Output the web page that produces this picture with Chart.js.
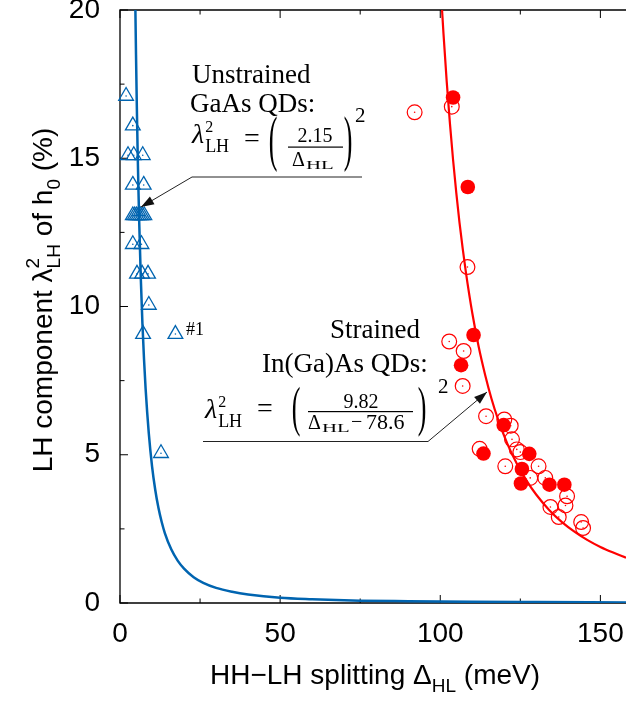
<!DOCTYPE html>
<html><head><meta charset="utf-8">
<script src="https://cdn.jsdelivr.net/npm/chart.js@4"></script>
<style>html,body{margin:0;padding:0;background:#fff}canvas{display:block}</style>
</head><body>
<canvas id="c" width="626" height="702" style="width:626px;height:702px"></canvas>
<script>
// ---- data ----
const xTicks = [0, 50, 100, 150];
const xMinorTicks = [25, 75, 125];
const yTicks = [0, 5, 10, 15, 20];
const yMinorTicks = [2.5, 7.5, 12.5, 17.5];
const xRange = [0, 158];
const yRange = [0, 20];

// Unstrained GaAs QDs (open triangles)
const gaasX = [1.9, 4.0, 2.5, 4.3, 7.1, 4.0, 7.4, 4.0, 4.6, 5.2, 5.8, 6.4, 7.0, 7.6, 4.0, 6.7, 5.3, 6.9, 8.75, 9.0, 7.2, 17.3, 12.8];
const gaasY = [17.1, 16.1, 15.1, 15.1, 15.1, 14.1, 14.1, 13.07, 13.07, 13.07, 13.07, 13.07, 13.07, 13.07, 12.1, 12.1, 11.1, 11.1, 11.1, 10.05, 9.07, 9.07, 5.05];

// Strained In(Ga)As QDs, open circles
const ingaasOpenX = [92.0, 103.6, 108.5, 102.8, 107.3, 107.0, 114.3, 120.0, 122.0, 122.4, 112.3, 123.9, 125.0, 120.3, 130.7, 128.1, 132.8, 139.6, 139.1, 134.4, 137.0, 144.0, 144.6];
const ingaasOpenY = [16.55, 16.74, 11.33, 8.82, 8.5, 7.32, 6.3, 6.19, 5.98, 5.52, 5.2, 5.18, 5.09, 4.61, 4.61, 4.22, 4.22, 3.6, 3.29, 3.24, 2.9, 2.73, 2.53];
// Strained In(Ga)As QDs, filled circles
const ingaasFilledX = [104.0, 108.6, 110.4, 106.5, 119.8, 113.5, 127.8, 125.5, 125.2, 134.1, 138.75];
const ingaasFilledY = [17.05, 14.03, 9.04, 8.02, 6.0, 5.04, 5.03, 4.52, 4.03, 3.99, 3.99];

// fit curves
const gaasFitX = [4.8, 5.0, 5.25, 5.5, 5.75, 6.0, 6.5, 7.0, 7.5, 8.0, 9.0, 10, 11, 12, 13, 14, 16, 18, 20, 23, 26, 30, 35, 40, 50, 60, 75, 90, 110, 130, 158];
const gaasFitY = [20.06, 18.49, 16.77, 15.28, 13.98, 12.84, 10.94, 9.43, 8.22, 7.22, 5.71, 4.62, 3.82, 3.21, 2.74, 2.36, 1.81, 1.43, 1.16, 0.87, 0.68, 0.51, 0.38, 0.29, 0.18, 0.13, 0.08, 0.06, 0.04, 0.03, 0.02];
const ingaasFitX = [100.5, 101, 102, 103, 104, 105, 106, 107, 108, 110, 112, 114, 116, 118, 121, 124, 127, 130, 134, 138, 142, 146, 150, 154, 158];
const ingaasFitY = [20.11, 19.22, 17.61, 16.20, 14.95, 13.84, 12.84, 11.96, 11.16, 9.78, 8.64, 7.70, 6.89, 6.21, 5.36, 4.68, 4.12, 3.65, 3.14, 2.73, 2.40, 2.12, 1.89, 1.70, 1.53];

const BLUE = '#0064b0';
const RED = '#ff0000';
const pts = (xs, ys) => xs.map((x, i) => ({x: x, y: ys[i]}));

const SANS = '"Liberation Sans", Arial, Helvetica, sans-serif';
const SERIF = '"Liberation Serif", "Times New Roman", serif';

// ---- plugins ----
const frame = {
  id: 'frame',
  beforeDatasetsDraw(chart) {
    const {ctx, chartArea: a, scales: {x, y}} = chart;
    ctx.save();
    ctx.strokeStyle = '#000';
    ctx.lineWidth = 1.3;
    ctx.beginPath();
    ctx.moveTo(a.right + 2, a.top); ctx.lineTo(a.left, a.top);
    ctx.lineTo(a.left, a.bottom); ctx.lineTo(a.right + 2, a.bottom);
    ctx.stroke();
    ctx.lineWidth = 1;
    const xt = (v, len) => {
      const px = x.getPixelForValue(v);
      ctx.beginPath();
      ctx.moveTo(px, a.bottom); ctx.lineTo(px, a.bottom - len);
      ctx.moveTo(px, a.top); ctx.lineTo(px, a.top + len);
      ctx.stroke();
    };
    const yt = (v, len) => {
      const py = y.getPixelForValue(v);
      ctx.beginPath();
      ctx.moveTo(a.left, py); ctx.lineTo(a.left + len, py);
      ctx.stroke();
    };
    xTicks.forEach(v => xt(v, 8)); xMinorTicks.forEach(v => xt(v, 4.5));
    yTicks.forEach(v => yt(v, 8)); yMinorTicks.forEach(v => yt(v, 4.5));
    ctx.restore();
  }
};

function txt(ctx, s, x, y, font, align) {
  ctx.font = font; ctx.textAlign = align || 'left'; ctx.textBaseline = 'alphabetic';
  ctx.fillText(s, x, y);
  return x + ctx.measureText(s).width;
}
function txtScaled(ctx, s, x, y, font, sx) {
  ctx.save(); ctx.translate(x, y); ctx.scale(sx, 1);
  txt(ctx, s, 0, 0, font); ctx.restore();
}
function paren(ctx, s, cx, cy, h) {
  ctx.save();
  ctx.font = '26px ' + SERIF;
  const k = h / 23.6;
  ctx.translate(cx, cy); ctx.scale(1, k);
  ctx.textAlign = 'center'; ctx.textBaseline = 'alphabetic';
  ctx.fillText(s, 0, 6.1);
  ctx.restore();
}
function rich(ctx, parts, x, y, align) {
  let w = 0;
  for (const p of parts) { ctx.font = p[1]; if (p[3] !== false) w += ctx.measureText(p[0]).width; }
  let cx = align === 'center' ? x - w / 2 : x;
  ctx.textAlign = 'left'; ctx.textBaseline = 'alphabetic';
  for (const p of parts) {
    ctx.font = p[1];
    ctx.fillText(p[0], cx, y + (p[2] || 0));
    if (p[3] !== false) cx += ctx.measureText(p[0]).width;
  }
}
function arrow(ctx, x1, y1, x2, y2) {
  ctx.beginPath(); ctx.moveTo(x1, y1); ctx.lineTo(x2, y2); ctx.stroke();
  const ang = Math.atan2(y2 - y1, x2 - x1), L = 13, W = 4.5;
  const bx = x2 - L * Math.cos(ang), by = y2 - L * Math.sin(ang);
  ctx.beginPath();
  ctx.moveTo(x2, y2);
  ctx.lineTo(bx + W * Math.sin(ang), by - W * Math.cos(ang));
  ctx.lineTo(bx - W * Math.sin(ang), by + W * Math.cos(ang));
  ctx.closePath(); ctx.fill();
}
function lambdaLH(ctx, x, y) {
  const e = txt(ctx, '\u03bb', x, y, 'italic 28px ' + SERIF) + 1;
  txt(ctx, '2', e, y - 11, '16px ' + SERIF);
  txt(ctx, 'LH', e, y + 9, '18px ' + SERIF);
}

const texts = {
  id: 'texts',
  afterDraw(chart) {
    const ctx = chart.ctx;
    ctx.save();
    ctx.fillStyle = '#000';
    // axis titles
    const F28 = '28px ' + SANS, F19 = '19px ' + SANS;
    rich(ctx, [['HH\u2212LH splitting \u0394', F28], ['HL', F19, 8], [' (meV)', F28]], 375, 684, 'center');
    ctx.save();
    ctx.translate(52, 300); ctx.rotate(-Math.PI / 2);
    rich(ctx, [['LH component \u03bb', F28], ['2', F19, -13, false], ['LH', F19, 8], [' of h', F28], ['0', F19, 8], [' (%)', F28]], 0, 0, 'center');
    ctx.restore();

    // annotation 1
    const S27 = '27px ' + SERIF;
    txt(ctx, 'Unstrained', 192, 83, S27);
    txt(ctx, 'GaAs QDs:', 190, 112, S27);
    lambdaLH(ctx, 192, 143);
    txt(ctx, '=', 244, 147, '28px ' + SERIF);
    paren(ctx, '(', 273, 144.5, 55);
    txt(ctx, '2.15', 315, 142, '20px ' + SERIF, 'center');
    ctx.fillRect(288, 146.5, 55, 1.2);
    txt(ctx, '\u0394', 292, 166, '20px ' + SERIF);
    txtScaled(ctx, 'HL', 306, 169, '13px ' + SERIF, 1.6);
    paren(ctx, ')', 348, 144.5, 55);
    txt(ctx, '2', 355, 122, '21px ' + SERIF);

    // annotation 2
    txt(ctx, 'Strained', 330, 338, S27);
    txt(ctx, 'In(Ga)As QDs:', 262, 372, S27);
    lambdaLH(ctx, 205, 418);
    txt(ctx, '=', 257, 417, '28px ' + SERIF);
    paren(ctx, '(', 296, 412.5, 49);
    txt(ctx, '9.82', 361, 408, '20px ' + SERIF, 'center');
    ctx.fillRect(308, 411, 105, 1.2);
    txt(ctx, '\u0394', 308, 429, '20px ' + SERIF);
    txtScaled(ctx, 'HL', 322, 432, '13px ' + SERIF, 1.6);
    txt(ctx, '\u2212', 351, 428, '20px ' + SERIF);
    txt(ctx, '78.6', 366, 429, '22px ' + SERIF);
    paren(ctx, ')', 422, 412.5, 49);
    txt(ctx, '2', 438, 393, '21px ' + SERIF);

    // #1 label
    txt(ctx, '#1', 186, 335, '18px ' + SERIF);

    // leader lines and arrows
    ctx.strokeStyle = '#222'; ctx.fillStyle = '#111'; ctx.lineWidth = 1;
    ctx.beginPath(); ctx.moveTo(362, 177); ctx.lineTo(192, 177); ctx.stroke();
    arrow(ctx, 192, 177, 141, 207);
    ctx.beginPath(); ctx.moveTo(203, 441.5); ctx.lineTo(428, 441.5); ctx.stroke();
    arrow(ctx, 428, 441.5, 487, 392);
    ctx.restore();
  }
};

const noPad = s => { s.paddingTop = 0; s.paddingBottom = 0; s.paddingLeft = 0; s.paddingRight = 0; };

new Chart(document.getElementById('c'), {
  type: 'scatter',
  data: {
    datasets: [
      {data: pts(gaasFitX, gaasFitY), showLine: true, borderColor: BLUE, borderWidth: 2.5, pointRadius: 0, cubicInterpolationMode: 'monotone', fill: false},
      {data: pts(ingaasFitX, ingaasFitY), showLine: true, borderColor: RED, borderWidth: 2.2, pointRadius: 0, cubicInterpolationMode: 'monotone', fill: false},
      {data: pts(gaasX, gaasY), pointStyle: 'circle', pointRadius: 0.8, pointBorderWidth: 0, pointBackgroundColor: BLUE, clip: false},
      {data: pts(ingaasOpenX, ingaasOpenY), pointStyle: 'circle', pointRadius: 0.8, pointBorderWidth: 0, pointBackgroundColor: RED, clip: false},
      {data: pts(gaasX, gaasY), pointStyle: 'triangle', pointRadius: 8.5, pointBorderWidth: 1.3, pointBorderColor: BLUE, pointBackgroundColor: 'rgba(0,0,0,0)', clip: false},
      {data: pts(ingaasOpenX, ingaasOpenY), pointStyle: 'circle', pointRadius: 7.4, pointBorderWidth: 1.2, pointBorderColor: RED, pointBackgroundColor: 'rgba(0,0,0,0)', clip: false},
      {data: pts(ingaasFilledX, ingaasFilledY), pointStyle: 'circle', pointRadius: 7.3, pointBorderWidth: 0, pointBackgroundColor: RED, clip: false}
    ]
  },
  options: {
    responsive: false,
    animation: false,
    devicePixelRatio: 1,
    events: [],
    layout: {autoPadding: false, padding: {top: 10, right: 0, left: 0, bottom: 0}},
    plugins: {legend: {display: false}, tooltip: {enabled: false}},
    scales: {
      x: {
        type: 'linear', position: 'bottom', min: xRange[0], max: xRange[1],
        grid: {display: false, drawTicks: false}, border: {display: false},
        afterBuildTicks: s => { s.ticks = xTicks.map(v => ({value: v})); },
        afterFit: s => { s.height = 99; noPad(s); },
        ticks: {font: {family: SANS, size: 28}, color: '#000', padding: 14, maxRotation: 0}
      },
      y: {
        type: 'linear', position: 'left', min: yRange[0], max: yRange[1],
        grid: {display: false, drawTicks: false}, border: {display: false},
        afterBuildTicks: s => { s.ticks = yTicks.map(v => ({value: v})); },
        afterFit: s => { s.width = 120; noPad(s); },
        ticks: {font: {family: SANS, size: 28}, color: '#000', padding: 20}
      }
    }
  },
  plugins: [frame, texts]
});
</script>
</body></html>
